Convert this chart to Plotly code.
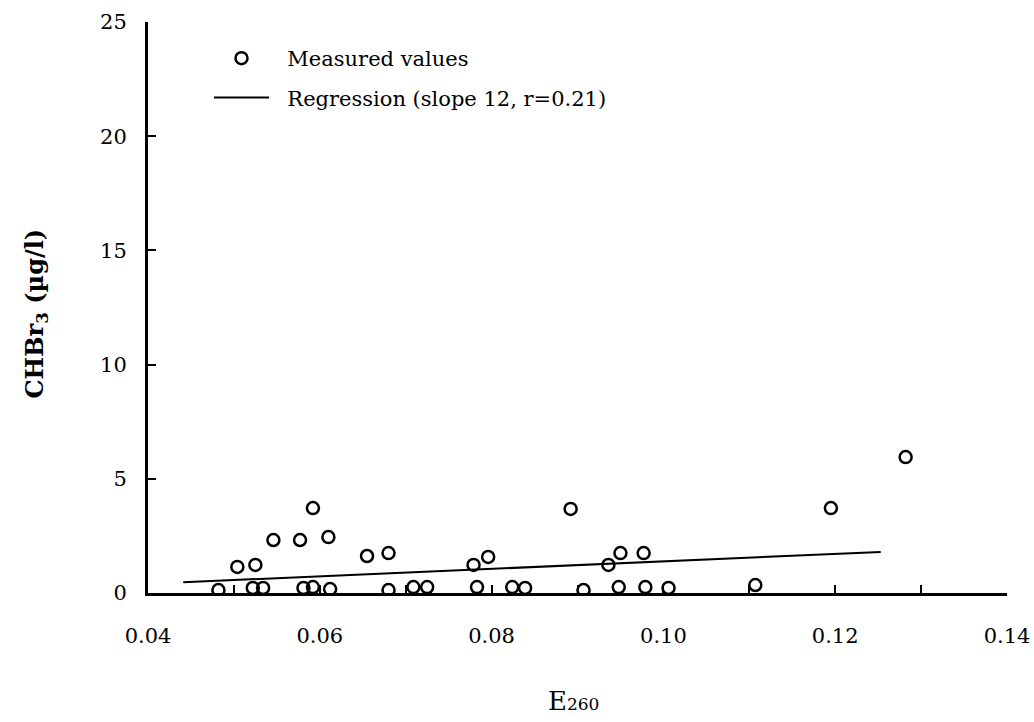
import plotly.graph_objects as go

e260 = [0.0504, 0.0525, 0.0546, 0.0577, 0.0592, 0.0610, 0.0655, 0.0680,
        0.0779, 0.0796, 0.0892, 0.0936, 0.0950, 0.0977, 0.1195, 0.1282,
        0.0482, 0.0522, 0.0534, 0.0581, 0.0592, 0.0612, 0.0680, 0.0709,
        0.0725, 0.0783, 0.0824, 0.0839, 0.0907, 0.0948, 0.0979, 0.1006,
        0.1107]
chbr3 = [1.14, 1.23, 2.32, 2.32, 3.72, 2.45, 1.62, 1.75,
         1.23, 1.58, 3.68, 1.23, 1.75, 1.75, 3.72, 5.95,
         0.13, 0.22, 0.22, 0.22, 0.26, 0.17, 0.13, 0.26,
         0.26, 0.26, 0.26, 0.22, 0.13, 0.26, 0.26, 0.22,
         0.35]

# Regression line end points
reg_x = [0.0441, 0.1253]
reg_y = [0.47, 1.80]

x_tickvals = [0.04, 0.06, 0.08, 0.10, 0.12, 0.14]
x_ticktext = ["0.04", "0.06", "0.08", "0.10", "0.12", "0.14"]
y_tickvals = [0, 5, 10, 15, 20, 25]

FONT = "DejaVu Serif"
NB = "\u00a0\u00a0"

fig = go.Figure()
fig.add_trace(go.Scatter(
    x=e260, y=chbr3, mode="markers", name=NB + "Measured values", legendgroup="a",
    marker=dict(symbol="circle-open", size=12, color="black", line=dict(width=2.5)),
))
fig.add_trace(go.Scatter(
    x=reg_x, y=reg_y, mode="lines", name=NB + "Regression (slope 12, r=0.21)", legendgroup="b",
    line=dict(color="black", width=2),
))

fig.update_layout(
    width=1034, height=722,
    margin=dict(l=148, r=27, t=22, b=129),
    paper_bgcolor="white", plot_bgcolor="white",
    font=dict(family=FONT, size=21, color="black"),
    showlegend=True,
    legend=dict(x=0.071, y=0.972, xanchor="left", yanchor="top",
                bgcolor="rgba(0,0,0,0)", font=dict(family=FONT, size=21),
                itemwidth=55, tracegroupgap=9),
    xaxis=dict(range=[0.04, 0.14], tickvals=x_tickvals, ticktext=x_ticktext,
               ticks="inside", ticklen=8, tickwidth=2, tickcolor="black",
               minor=dict(tick0=0.05, dtick=0.02, ticks="inside", ticklen=8,
                          tickwidth=2, tickcolor="black", showgrid=False),
               showline=True, linecolor="black", linewidth=3, automargin=False,
               showgrid=False, zeroline=False, ticklabelstandoff=22,
               tickfont=dict(family=FONT, size=21)),
    yaxis=dict(range=[0, 25], tickvals=y_tickvals, automargin=False,
               ticks="inside", ticklen=8, tickwidth=2, tickcolor="black",
               showline=True, linecolor="black", linewidth=3,
               showgrid=False, zeroline=False, ticklabelstandoff=14,
               tickfont=dict(family=FONT, size=21)),
    annotations=[
        dict(text="<b>CHBr<sub>3</sub> (µg/l)</b>", xref="paper", yref="paper",
             x=-0.13, y=0.49, xanchor="center", yanchor="middle", textangle=-90,
             showarrow=False, font=dict(family=FONT, size=24)),
        dict(text="E<span style='font-size:17px'>260</span>", xref="paper", yref="paper",
             x=0.495, y=-0.19, xanchor="center", yanchor="middle",
             showarrow=False, font=dict(family=FONT, size=26)),
    ],
)

fig.write_html("out.html", config={"displayModeBar": False},
               post_script="document.body.style.margin='0';document.body.style.overflow='hidden';")
